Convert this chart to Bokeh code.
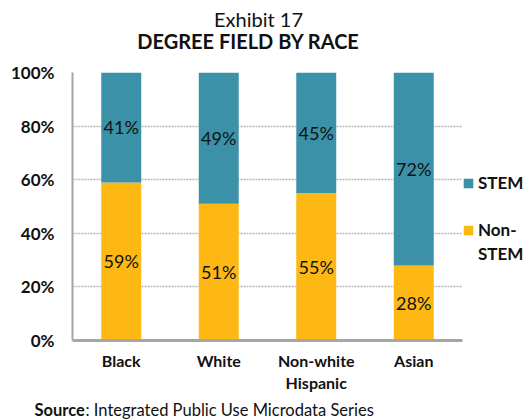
from bokeh.plotting import figure
from bokeh.layouts import column
from bokeh.models import (ColumnDataSource, FactorRange, FixedTicker, Label,
                          Legend, LegendItem)
from bokeh.embed import file_html
from bokeh.resources import INLINE
from bokeh.core.properties import value

# ---- data ----
races = ["Black", "White", "Non-white\nHispanic", "Asian"]
non_stem = [59, 51, 55, 28]
stem = [41, 49, 45, 72]
y_ticks = [0, 20, 40, 60, 80, 100]
y_tick_labels = ["0%", "20%", "40%", "60%", "80%", "100%"]

TEAL = "#3A91A8"
YELLOW = "#FDB813"
FONT = "Lato"
INK = "#111111"
W = 526
TOP_H = 60
MAIN_TOP, FRAME_H, MAIN_BOT = 12, 268, 57
BOT_H = 419 - TOP_H - MAIN_TOP - FRAME_H - MAIN_BOT


def text_fig(h):
    f = figure(frame_width=W, frame_height=h, x_range=(0, W), y_range=(0, h),
               min_border=0, output_backend="svg", toolbar_location=None,
               outline_line_color=None, title=None, frame_align=False,
               x_axis_type=None, y_axis_type=None)
    f.grid.visible = False
    return f


def lab(f, text, x, y, size, style="normal", align="center"):
    f.add_layout(Label(text=text, x=x, y=y, text_font=FONT,
                       text_font_size=size, text_font_style=style,
                       text_align=align, text_baseline="middle",
                       text_color=INK))


# ---- title block ----
top = text_fig(TOP_H)
lab(top, "Exhibit 17", 258, TOP_H - 18, "20px")
lab(top, "DEGREE FIELD BY RACE", 248, TOP_H - 40, "20px", "bold")

# ---- main chart ----
src = ColumnDataSource(dict(
    race=races,
    nonstem=non_stem,
    stem=stem,
    nonstem_mid=[v / 2 for v in non_stem],
    stem_mid=[n + s / 2 for n, s in zip(non_stem, stem)],
    nonstem_lbl=[f"{v}%" for v in non_stem],
    stem_lbl=[f"{v}%" for v in stem],
))

p = figure(x_range=FactorRange(*races, range_padding=0), y_range=(0, 100),
           frame_width=390, frame_height=FRAME_H,
           min_border_left=72, min_border_top=MAIN_TOP, min_border_right=64,
           min_border_bottom=MAIN_BOT, output_backend="svg",
           toolbar_location=None, title=None, outline_line_color=None,
           frame_align=False)

r = p.vbar_stack(["nonstem", "stem"], x="race", width=0.41, source=src,
                 color=[YELLOW, TEAL], line_color=None)
# invisible renderer used only for spacer / continuation rows of the legend
blank = p.vbar(x=[], top=[], width=0.41, fill_alpha=0, line_alpha=0)

for ycol, tcol in (("stem_mid", "stem_lbl"), ("nonstem_mid", "nonstem_lbl")):
    p.text(x="race", y=ycol, text=tcol, source=src,
           text_align="center", text_baseline="middle", text_font=value(FONT),
           text_font_size="18px", text_color=INK)

p.yaxis.ticker = FixedTicker(ticks=y_ticks)
p.yaxis.major_label_overrides = dict(zip(y_ticks, y_tick_labels))
for ax in (p.xaxis, p.yaxis):
    ax.major_tick_line_color = None
    ax.minor_tick_line_color = None
    ax.major_tick_out = 0
    ax.major_tick_in = 0
    ax.major_label_text_font = FONT
    ax.major_label_text_font_style = "bold"
    ax.major_label_text_color = INK
p.yaxis.major_label_text_font_size = "17px"
p.xaxis.major_label_text_font_size = "16px"
p.yaxis.axis_line_color = "#A6A6A6"
p.yaxis.axis_line_width = 2
p.yaxis.major_label_standoff = 18
p.xaxis.axis_line_color = "#A6A6A6"
p.xaxis.axis_line_width = 3
p.xaxis.major_label_standoff = 10

p.xgrid.grid_line_color = None
p.ygrid.grid_line_color = "#B8B8B8"
p.ygrid.grid_line_dash = "2 1"
p.ygrid.grid_line_width = 1.5

legend = Legend(items=[LegendItem(label="STEM", renderers=[r[1]]),
                       LegendItem(label=" ", renderers=[blank]),
                       LegendItem(label="Non-", renderers=[r[0]]),
                       LegendItem(label="STEM", renderers=[blank])],
                location=(0, 76), orientation="vertical",
                glyph_width=12, glyph_height=12, label_height=20,
                label_standoff=4, spacing=3, padding=0, margin=0,
                border_line_color=None, background_fill_alpha=0,
                label_text_font=FONT, label_text_font_style="bold",
                label_text_font_size="17px", label_text_color=INK)
p.add_layout(legend, "right")

# ---- source line ----
bot = text_fig(BOT_H)
lab(bot, "Source", 34, 10, "16.5px", "bold", "left")
lab(bot, ": Integrated Public Use Microdata Series", 85, 10, "16.5px",
    "normal", "left")

layout = column(top, p, bot, spacing=0)
open("out.html", "w").write(file_html(layout, INLINE))
